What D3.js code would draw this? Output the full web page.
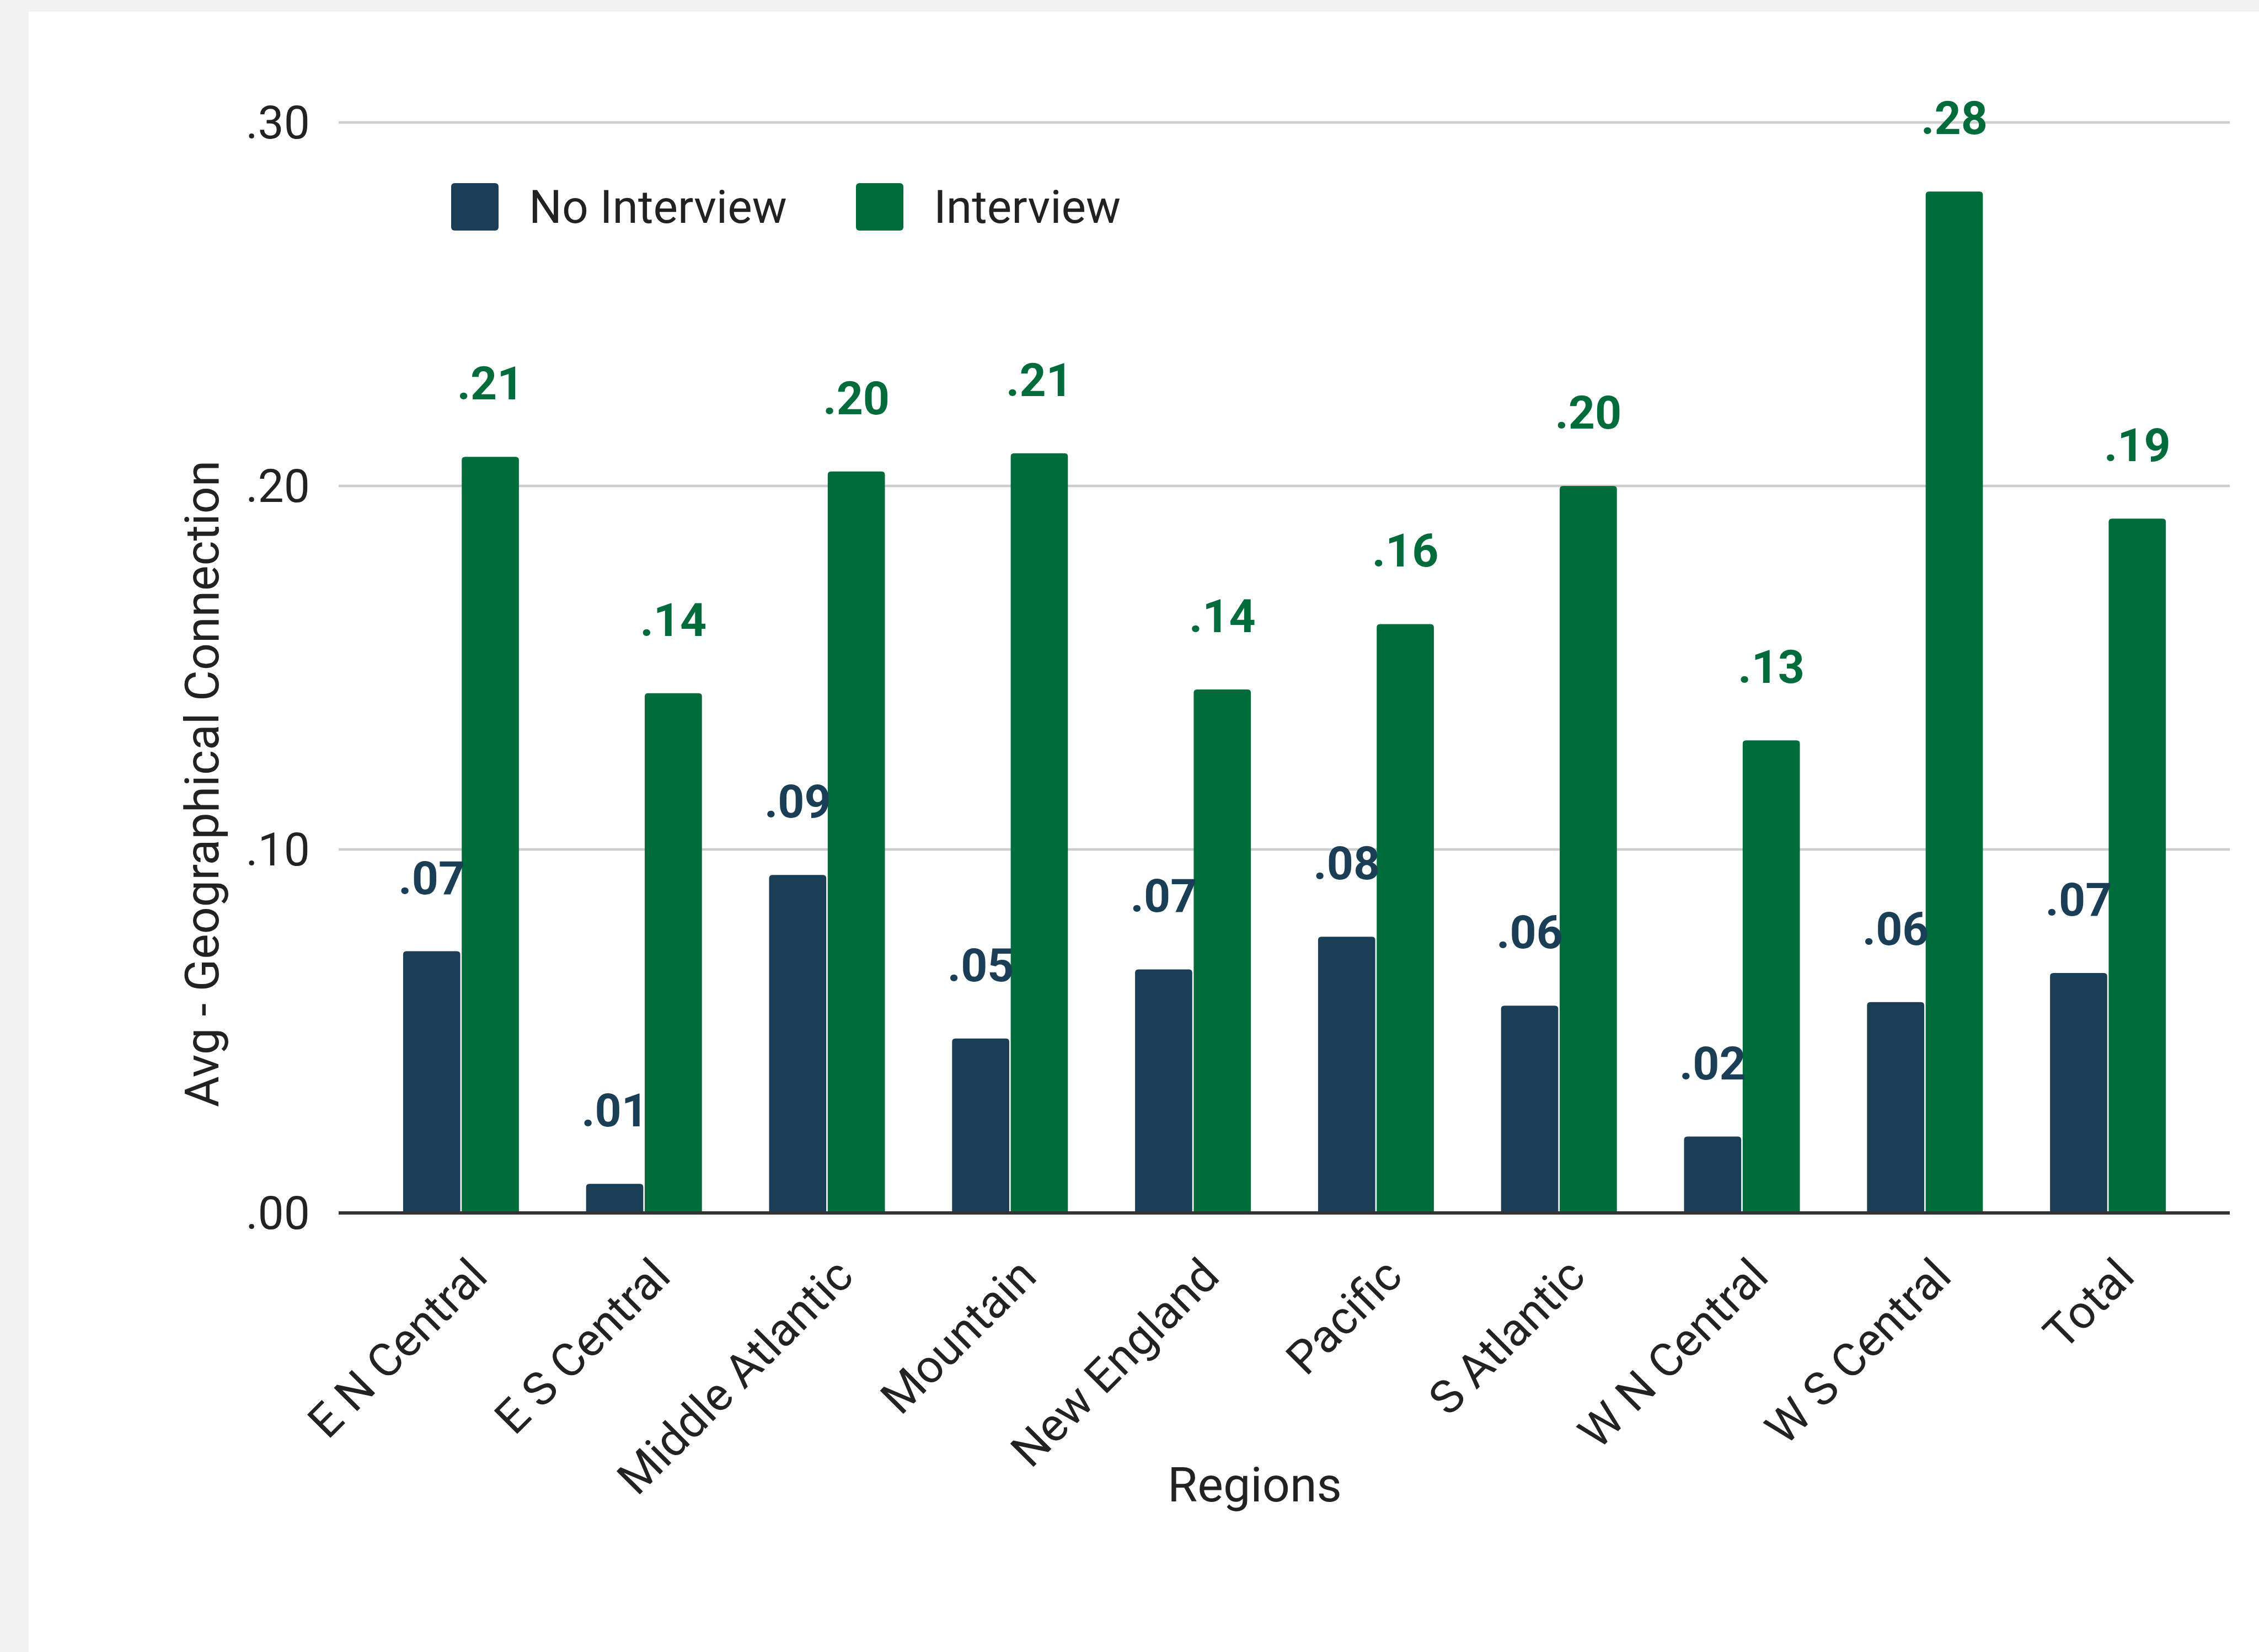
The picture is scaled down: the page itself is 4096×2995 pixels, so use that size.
<!DOCTYPE html>
<html>
<head>
<meta charset="utf-8">
<script src="https://cdn.jsdelivr.net/npm/d3@7"></script>
<style>
  html, body { margin: 0; padding: 0; background: #f2f2f2; }
  svg { display: block; font-family: Roboto, "Noto Sans", sans-serif; }
</style>
</head>
<body>
<div id="chart"></div>
<script>
// Avg geographical connection by region, interview vs no interview

const regions = ['E N Central', 'E S Central', 'Middle Atlantic', 'Mountain', 'New England',
                 'Pacific', 'S Atlantic', 'W N Central', 'W S Central', 'Total'];
const seriesNames = ['No Interview', 'Interview'];
const noInterview = [0.072, 0.008, 0.093, 0.048, 0.067, 0.076, 0.057, 0.021, 0.058, 0.066];
const interview = [0.208, 0.143, 0.204, 0.209, 0.144, 0.162, 0.200, 0.130, 0.281, 0.191];
const yTicks = [0, 0.1, 0.2, 0.3];
const colors = ['#1b3e57', '#006b3b'];

const width = 4096, height = 2995;
const fontSize = 84;

const svg = d3.select('#chart').append('svg')
    .attr('width', width)
    .attr('height', height);

// page background + white panel
svg.append('rect').attr('width', width).attr('height', height).attr('fill', '#f2f2f2');
svg.append('rect').attr('x', 52).attr('y', 21).attr('width', width - 52).attr('height', height - 21)
    .attr('fill', '#ffffff');

// scales
const x = d3.scaleBand().domain(regions).range([670, 3988]).padding(0);
const groupWidth = 210;
const xInner = d3.scaleBand().domain(seriesNames).range([0, groupWidth]).paddingInner(0.025);
const y = d3.scaleLinear().domain([0, 0.3]).range([2199, 222]);

const fmt = v => d3.format('.2f')(v).replace(/^0/, '');

// gridlines
svg.append('g').selectAll('line')
    .data(yTicks.filter(d => d > 0))
    .enter().append('line')
    .attr('x1', 614).attr('x2', 4043)
    .attr('y1', d => y(d)).attr('y2', d => y(d))
    .attr('stroke', '#cccccc').attr('stroke-width', 4.5);

// y tick labels
svg.append('g').selectAll('text')
    .data(yTicks)
    .enter().append('text')
    .attr('x', 562)
    .attr('y', d => y(d))
    .attr('dy', '0.35em')
    .attr('text-anchor', 'end')
    .attr('fill', '#222222')
    .attr('font-size', fontSize)
    .text(fmt);

// bars
const rows = regions.map((r, i) => ({ region: r, values: [noInterview[i], interview[i]] }));

const groups = svg.append('g').selectAll('g')
    .data(rows)
    .enter().append('g')
    .attr('transform', d => `translate(${x(d.region) + x.bandwidth() / 2 - groupWidth / 2},0)`);

const r = 6;
groups.selectAll('path')
    .data(d => d.values.map((v, k) => ({ key: seriesNames[k], value: v, k })))
    .enter().append('path')
    .attr('fill', d => colors[d.k])
    .attr('d', d => {
        const x0 = xInner(d.key), w = xInner.bandwidth();
        const top = y(d.value), bot = y(0);
        const rr = Math.min(r, (bot - top) / 2);
        return `M${x0},${bot}V${top + rr}Q${x0},${top} ${x0 + rr},${top}H${x0 + w - rr}Q${x0 + w},${top} ${x0 + w},${top + rr}V${bot}Z`;
    });

// value labels
groups.selectAll('text')
    .data(d => d.values.map((v, k) => ({ key: seriesNames[k], value: v, k })))
    .enter().append('text')
    .attr('x', d => xInner(d.key) + xInner.bandwidth() / 2)
    .attr('y', d => y(d.value) - 104)
    .attr('text-anchor', 'middle')
    .attr('font-weight', 'bold')
    .attr('font-size', fontSize)
    .attr('fill', d => colors[d.k])
    .text(d => fmt(d.value));

// baseline
svg.append('line')
    .attr('x1', 614).attr('x2', 4043)
    .attr('y1', y(0)).attr('y2', y(0))
    .attr('stroke', '#333333').attr('stroke-width', 6);

// category labels, rotated
svg.append('g').selectAll('text')
    .data(regions)
    .enter().append('text')
    .attr('transform', d => `translate(${x(d) + x.bandwidth() / 2 + 52},${2318}) rotate(-45)`)
    .attr('text-anchor', 'end')
    .attr('fill', '#222222')
    .attr('font-size', fontSize)
    .text(d => d);

// axis titles
svg.append('text')
    .attr('x', 2275).attr('y', 2722)
    .attr('text-anchor', 'middle')
    .attr('fill', '#222222')
    .attr('font-size', 88)
    .text('Regions');

svg.append('text')
    .attr('transform', 'translate(366,1421) rotate(-90)')
    .attr('dy', '0.35em')
    .attr('text-anchor', 'middle')
    .attr('fill', '#222222')
    .attr('font-size', 86)
    .text('Avg - Geographical Connection');

// legend
const legendX = [818, 1552];
const legend = svg.append('g').selectAll('g')
    .data(seriesNames)
    .enter().append('g')
    .attr('transform', (d, i) => `translate(${legendX[i]},332)`);

legend.append('rect')
    .attr('width', 86).attr('height', 86)
    .attr('rx', 6)
    .attr('fill', (d, i) => colors[i]);

legend.append('text')
    .attr('x', 141)
    .attr('y', 43)
    .attr('dy', '0.35em')
    .attr('fill', '#222222')
    .attr('font-size', fontSize)
    .text(d => d);
</script>
</body>
</html>
